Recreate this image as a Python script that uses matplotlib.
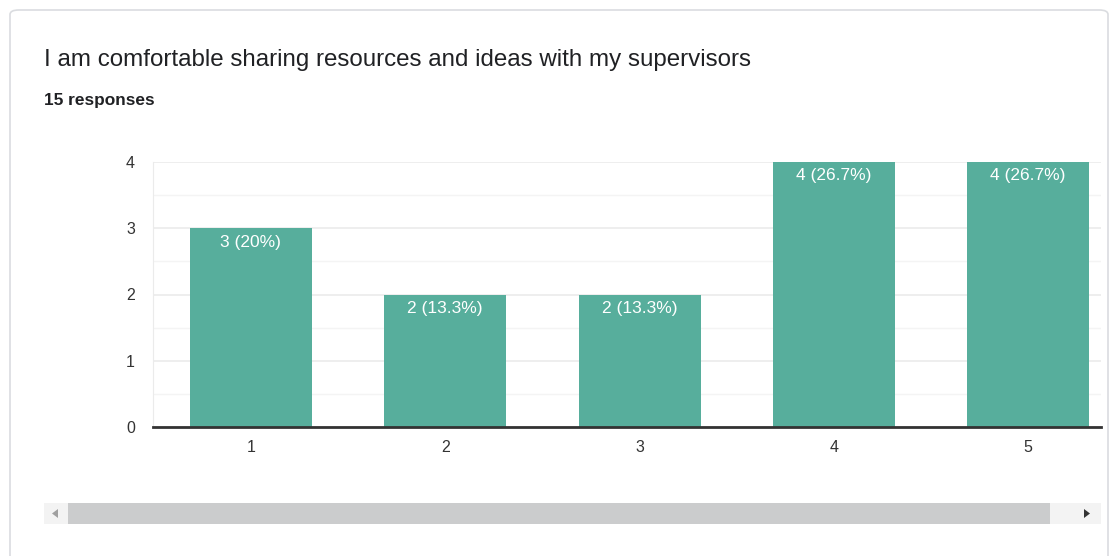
import matplotlib.pyplot as plt
from matplotlib.patches import FancyBboxPatch, Rectangle, Polygon

# Responses to the survey question, ratings 1..5
ratings = [1, 2, 3, 4, 5]
counts = [3, 2, 2, 4, 4]
percent_labels = ["20%", "13.3%", "13.3%", "26.7%", "26.7%"]
y_ticks = [0, 1, 2, 3, 4]

title = "I am comfortable sharing resources and ideas with my supervisors"
subtitle = "15 responses"

W, H = 1111, 556
fig = plt.figure(figsize=(W / 100, H / 100), dpi=100)
fig.patch.set_facecolor("white")


def px(x, y):
    # pixel coords (top-left origin) -> figure fraction
    return x / W, 1 - y / H


# card outline
card = FancyBboxPatch(px(10, 600), (1098 / W), (590 / H),
                      boxstyle="round,pad=0,rounding_size=0.008",
                      transform=fig.transFigure, fill=False,
                      edgecolor="#dadce0", linewidth=1.2)
fig.add_artist(card)

fig.text(*px(44, 60), title, fontsize=17.4, color="#202124",
         family="Liberation Sans", va="center", ha="left")
fig.text(*px(44, 100), subtitle, fontsize=12.4, color="#202124",
         family="Liberation Sans", fontweight="bold", va="center", ha="left")

left, right, top, bottom = 153, 1101, 162, 427
ax = fig.add_axes([left / W, 1 - bottom / H, (right - left) / W, (bottom - top) / H])
ax.set_xlim(0.496, 5.375)
ax.set_ylim(0, 4)

ax.bar(ratings, counts, width=0.628, color="#57ae9c", zorder=3)
for x, c, p in zip(ratings, counts, percent_labels):
    ax.annotate(f"{c} ({p})", (x, c), xytext=(0, -10), textcoords="offset points",
                ha="center", va="center", color="white", fontsize=12.5,
                family="Liberation Sans", zorder=4)

ax.set_yticks(y_ticks)
ax.set_yticks([0.5, 1.5, 2.5, 3.5], minor=True)
ax.set_xticks(ratings)
ax.grid(axis="y", which="major", color="#ebebeb", linewidth=1.2, zorder=0)
ax.grid(axis="y", which="minor", color="#f4f4f4", linewidth=1.0, zorder=0)
for s in ["top", "right"]:
    ax.spines[s].set_visible(False)
ax.spines["left"].set_color("#ebebeb")
ax.spines["bottom"].set_color("#333333")
ax.spines["bottom"].set_linewidth(2)
ax.spines["bottom"].set_zorder(5)
ax.tick_params(axis="both", which="both", length=0)
ax.tick_params(axis="y", pad=13)
ax.tick_params(axis="x", pad=9)
for lbl in ax.get_xticklabels() + ax.get_yticklabels():
    lbl.set_family("Liberation Sans")
    lbl.set_fontsize(11.5)
    lbl.set_color("#333333")

# horizontal scrollbar under the chart
track = Rectangle(px(44, 524), (1101 - 44) / W, 21 / H, transform=fig.transFigure,
                  facecolor="#f3f3f3", edgecolor="none")
thumb = Rectangle(px(68, 524), (1050 - 68) / W, 21 / H, transform=fig.transFigure,
                  facecolor="#cbcccd", edgecolor="none")
fig.add_artist(track)
fig.add_artist(thumb)
la = Polygon([px(52, 513.5), px(58, 509), px(58, 518)], closed=True,
             transform=fig.transFigure, facecolor="#a0a0a0", edgecolor="none")
ra = Polygon([px(1090, 513.5), px(1084, 509), px(1084, 518)], closed=True,
             transform=fig.transFigure, facecolor="#333333", edgecolor="none")
fig.add_artist(la)
fig.add_artist(ra)

fig.savefig("out.png", dpi=100)
